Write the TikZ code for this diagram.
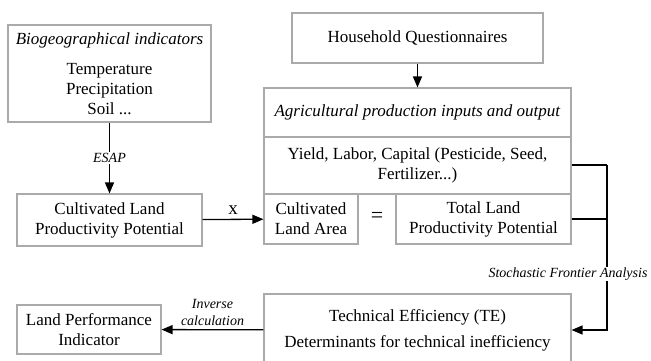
\documentclass[tikz,border=0pt]{standalone}
\usepackage{fontspec}
\setmainfont{Liberation Serif}
\usetikzlibrary{arrows.meta}
\definecolor{boxgray}{RGB}{170,170,170}

\begin{document}
\begin{tikzpicture}[x=1pt,y=-1pt,->,>={Triangle[length=11pt,width=9pt]},line width=1.3pt,
 box/.style={rectangle,draw=boxgray,line width=1.1pt,inner sep=0pt,align=center,
 font=\fontsize{17}{20}\selectfont},
 lbl/.style={font=\fontsize{14}{16}\selectfont\itshape,align=center,inner sep=1pt}]
 \useasboundingbox (0,0) rectangle (651,361);

 % boxes on the left
 \node[box,minimum width=203,minimum height=97] (bio) at (109.5,73.5)
 {\textit{Biogeographical indicators}\\[10pt]Temperature\\Precipitation\\Soil ...};
 \node[box,minimum width=185,minimum height=52] (clpp) at (109.5,220)
 {Cultivated Land\\Productivity Potential};
 \node[box,minimum width=144,minimum height=49] (lpi) at (89,329.5)
 {Land Performance\\Indicator};

 % boxes on the right
 \node[box,minimum width=251,minimum height=50] (hq) at (417.5,38) {Household Questionnaires};
 \node[box,minimum width=307,minimum height=49] (agri) at (417.5,112.5)
 {\textit{Agricultural production inputs and output}};
 \node[box,minimum width=307,minimum height=57] (yield) at (417.5,165.5)
 {Yield, Labor, Capital (Pesticide, Seed,\\Fertilizer...)};
 \node[box,minimum width=94,minimum height=50] (cla) at (311,219) {Cultivated\\Land Area};
 \node[box,minimum width=175,minimum height=50] (tlpp) at (483.5,219)
 {Total Land\\Productivity Potential};
 \node[font=\fontsize{22}{22}\selectfont] (eq) at (377,217) {=};
 \node[box,minimum width=307,minimum height=72,font=\fontsize{17}{26}\selectfont] (te) at (417.5,330)
 {Technical Efficiency (TE)\\Determinants for technical inefficiency};

 % connectors
 \draw (hq) -- (agri);
 \draw (bio) -- node[lbl,fill=white] {ESAP} (clpp);
 \draw (clpp) -- node[above,font=\fontsize{19}{19}\selectfont,inner sep=4pt] {x} (cla);
 \coordinate (bend) at (607,165);
 \draw[-] (yield.east |- bend) -- (bend);
 \draw[-] (tlpp.east) -- (tlpp.east -| bend);
 \draw (bend) -- (bend |- te.east) -- (te.east);
 \node[lbl,fill=white] (sfa) at (568,274) {Stochastic Frontier Analysis};
 \draw (te) -- node[lbl,above=2pt,font=\fontsize{14}{17}\selectfont\itshape] {Inverse\\calculation} (lpi);
\end{tikzpicture}
\end{document}
